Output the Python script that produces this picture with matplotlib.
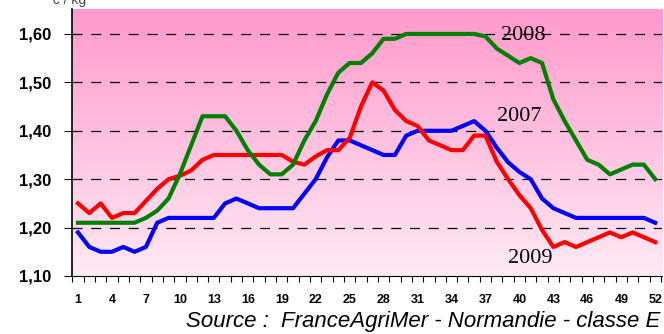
import numpy as np
import matplotlib.pyplot as plt
from matplotlib.colors import LinearSegmentedColormap

# semaines et prix (EUR/kg)
weeks = list(range(1, 53))

prix_2007 = [1.19, 1.16, 1.15, 1.15, 1.16, 1.15, 1.16, 1.21, 1.22, 1.22,
             1.22, 1.22, 1.22, 1.25, 1.26, 1.25, 1.24, 1.24, 1.24, 1.24,
             1.27, 1.30, 1.345, 1.38, 1.38, 1.37, 1.36, 1.35, 1.35, 1.39,
             1.40, 1.40, 1.40, 1.40, 1.41, 1.42, 1.40, 1.365, 1.335, 1.315,
             1.30, 1.26, 1.24, 1.23, 1.22, 1.22, 1.22, 1.22, 1.22, 1.22,
             1.22, 1.21]

prix_2008 = [1.21, 1.21, 1.21, 1.21, 1.21, 1.21, 1.22, 1.235, 1.26, 1.31,
             1.37, 1.43, 1.43, 1.43, 1.40, 1.36, 1.33, 1.31, 1.31, 1.33,
             1.38, 1.42, 1.475, 1.52, 1.54, 1.54, 1.56, 1.59, 1.59, 1.60,
             1.60, 1.60, 1.60, 1.60, 1.60, 1.60, 1.595, 1.57, 1.555, 1.54,
             1.55, 1.54, 1.465, 1.42, 1.38, 1.34, 1.33, 1.31, 1.32, 1.33,
             1.33, 1.30]

prix_2009 = [1.25, 1.23, 1.25, 1.22, 1.23, 1.23, 1.255, 1.28, 1.30, 1.307,
             1.318, 1.34, 1.35, 1.35, 1.35, 1.35, 1.35, 1.35, 1.35, 1.336,
             1.33, 1.347, 1.36, 1.36, 1.385, 1.45, 1.50, 1.483, 1.443, 1.42,
             1.41, 1.38, 1.37, 1.36, 1.36, 1.39, 1.39, 1.336, 1.30, 1.267,
             1.24, 1.195, 1.16, 1.17, 1.16, 1.17, 1.18, 1.19, 1.18, 1.19,
             1.18, 1.17]

yticks = [1.10, 1.20, 1.30, 1.40, 1.50, 1.60]
xticks = list(range(1, 53, 3))

fig = plt.figure(figsize=(6.64, 3.34), dpi=100)
ax = fig.add_axes([0.1084, 0.1737, 0.8886, 0.8])

# fond rose en dégradé
cmap = LinearSegmentedColormap.from_list("rose", ["#ffeaf4", "#ff99cc"])
grad = np.linspace(0, 1, 256).reshape(-1, 1)
ax.imshow(grad, cmap=cmap, aspect="auto", origin="lower",
          extent=[0, 1, 0, 1], transform=ax.transAxes, zorder=0)

ax.set_xlim(0.47, 52.6)
ax.set_ylim(1.10, 1.652)

for y in yticks[1:]:
    ax.axhline(y, color="black", lw=0.9, ls=(0, (8, 7)), zorder=1)

ax.plot(weeks, prix_2007, color="#0000ff", lw=3, zorder=3, solid_joinstyle="round")
ax.plot(weeks, prix_2009, color="#ff0000", lw=3, zorder=3, solid_joinstyle="round")
ax.plot(weeks, prix_2008, color="#008000", lw=3, zorder=4, solid_joinstyle="round")

serif = dict(family="Liberation Serif", fontsize=16, color="black", zorder=5)
ax.text(40.3, 1.597, "2008", ha="center", va="center", **serif)
ax.text(40.0, 1.429, "2007", ha="center", va="center", **serif)
ax.text(41.0, 1.137, "2009", ha="center", va="center", **serif)

ax.set_yticks(yticks)
ax.set_yticklabels([f"{v:.2f}".replace(".", ",") for v in yticks],
                   fontweight="bold", fontsize=12, family="Liberation Sans")
ax.set_xticks(xticks)
ax.set_xticklabels([str(w) for w in xticks], fontweight="bold", fontsize=9,
                   family="Liberation Sans")
ax.set_xticks(np.arange(0.5, 53, 1), minor=True)
ax.tick_params(axis="x", which="major", length=0, pad=13)
ax.tick_params(axis="x", which="minor", length=4, width=0.8)
ax.tick_params(axis="y", length=6, width=0.8, pad=9)

for s in ["top", "right"]:
    ax.spines[s].set_visible(False)
ax.spines["left"].set_linewidth(1.2)
ax.spines["bottom"].set_linewidth(0.8)

fig.text(0.995, 0.005, "Source :  FranceAgriMer - Normandie - classe E",
         ha="right", va="bottom", style="italic", fontsize=16,
         family="Liberation Sans")
fig.text(0.13, 1.0, "€ / kg", ha="right", va="center", fontsize=10,
         color="#444444", family="Liberation Sans")

fig.savefig("out.png", dpi=100)
